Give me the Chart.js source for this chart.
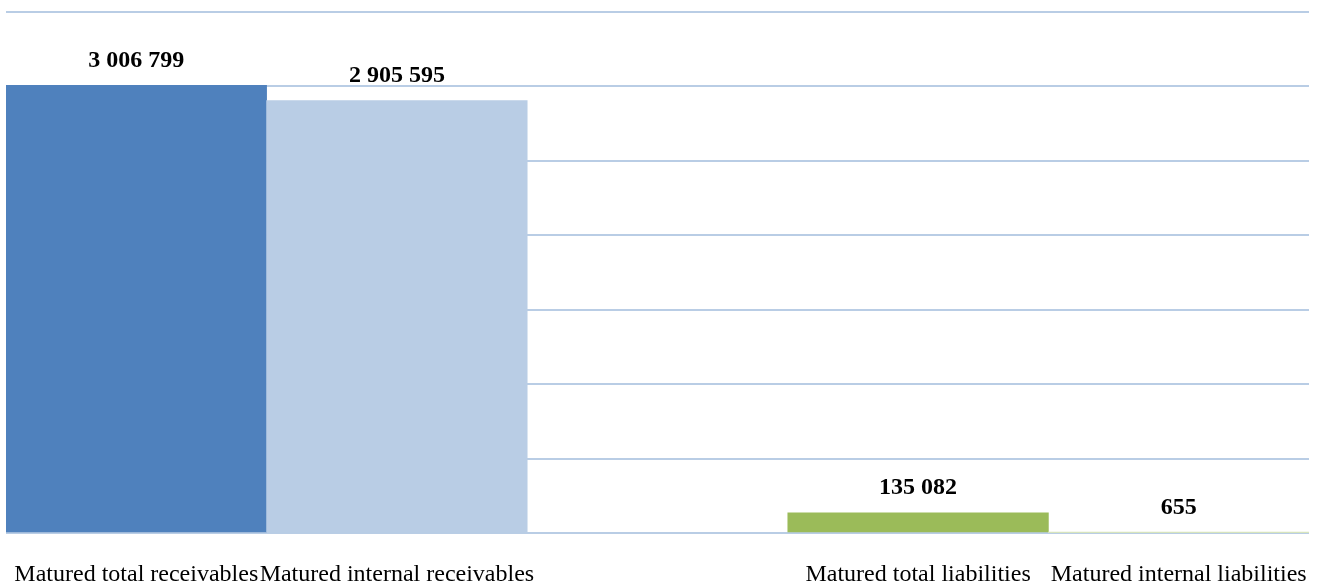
<!DOCTYPE html>
<html>
<head>
<meta charset="utf-8">
<script src="https://cdn.jsdelivr.net/npm/chart.js@4/dist/chart.umd.min.js"></script>
<style>
html,body{margin:0;padding:0;background:#fff;overflow:hidden;}
#wrap{width:1343px;height:586px;position:relative;}
</style>
</head>
<body>
<div id="wrap"><canvas id="c"></canvas></div>
<script>
const categories = ['Matured total receivables', 'Matured internal receivables', '', 'Matured total liabilities', 'Matured internal liabilities'];
const values = [3006799, 2905595, null, 135082, 655];
const barColors = ['#4f81bd', '#b9cde5', '#ffffff', '#9bbb59', '#d7e4bd'];
const yMax = 3500000;
const yStep = 500000;

function fmt(v) {
  return String(v).replace(/\B(?=(\d{3})+(?!\d))/g, ' ');
}

const valueLabels = {
  id: 'valueLabels',
  afterDatasetsDraw(chart) {
    const ctx = chart.ctx;
    const meta = chart.getDatasetMeta(0);
    ctx.save();
    ctx.font = 'bold 24px "Liberation Serif", "Times New Roman", serif';
    ctx.fillStyle = '#000';
    ctx.textAlign = 'center';
    ctx.textBaseline = 'middle';
    meta.data.forEach((el, i) => {
      const v = chart.data.datasets[0].data[i];
      if (v === null || v === undefined) return;
      ctx.fillText(fmt(v), el.x, el.y - 25);
    });
    ctx.restore();
  }
};

new Chart(document.getElementById('c'), {
  type: 'bar',
  data: {
    labels: categories,
    datasets: [{
      data: values,
      backgroundColor: barColors,
      barPercentage: 1,
      categoryPercentage: 1,
      borderWidth: 0
    }]
  },
  options: {
    responsive: true,
    maintainAspectRatio: false,
    animation: false,
    layout: { padding: { left: 6, right: 34, top: 12, bottom: 0 } },
    plugins: { legend: { display: false }, tooltip: { enabled: false } },
    scales: {
      x: {
        grid: { display: false, drawTicks: false },
        border: { display: false },
        afterFit(scale) { scale.height = 53; scale.paddingLeft = 0; scale.paddingRight = 0; },
        ticks: {
          color: '#000',
          padding: 27,
          maxRotation: 0,
          autoSkip: false,
          font: { family: '"Liberation Serif", "Times New Roman", serif', size: 24 }
        }
      },
      y: {
        min: 0,
        max: yMax,
        ticks: { display: false, stepSize: yStep },
        grid: { color: '#b9cde5', lineWidth: 2, drawTicks: false },
        border: { display: false }
      }
    }
  },
  plugins: [valueLabels]
});
</script>
</body>
</html>
